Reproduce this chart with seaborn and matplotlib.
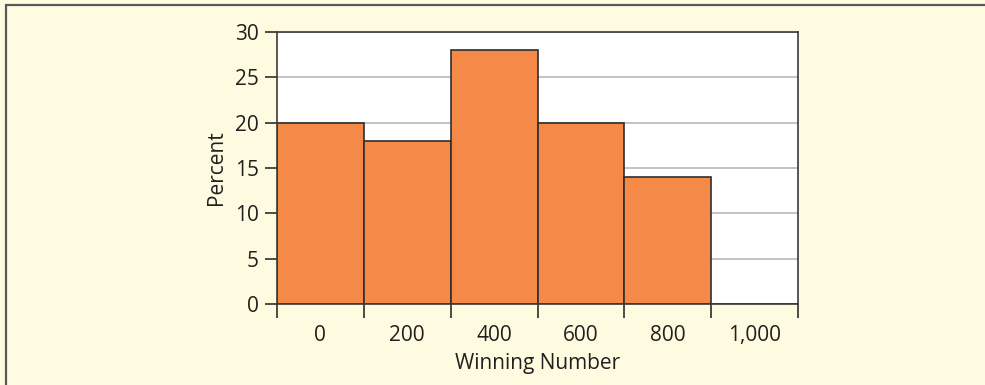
import matplotlib
matplotlib.use('Agg')
import matplotlib.pyplot as plt
import matplotlib.ticker as mticker
import seaborn as sns
import pandas as pd

# data
centers = [0, 200, 400, 600, 800, 1000]
percents = [20, 18, 28, 20, 14, 0]
center_labels = ['0', '200', '400', '600', '800', '1,000']
edges = [-100, 100, 300, 500, 700, 900, 1100]

sns.set_style('white')
plt.rcParams['font.family'] = ['Open Sans', 'DejaVu Sans']

bg = '#fefbe0'
df = pd.DataFrame({'Winning Number': centers, 'Percent': percents})

fig = plt.figure(figsize=(9.85, 3.85), dpi=100, facecolor=bg)
ax = fig.add_axes([277 / 985, 1 - 304 / 385, 521 / 985, 272 / 385])
ax.set_facecolor('white')

sns.histplot(data=df, x='Winning Number', weights='Percent', bins=edges,
             color='#f58a48', alpha=1, edgecolor='#2e2e2e', linewidth=1.2, ax=ax, zorder=2)

ax.set_xlim(-100, 1100)
ax.set_ylim(0, 30)
ax.set_yticks([0, 5, 10, 15, 20, 25, 30])
ax.yaxis.grid(True, color='#bdbdbd', linewidth=1.3, zorder=0)
ax.set_axisbelow(True)

# ticks at bin edges, labels at bin centers
ax.xaxis.set_major_locator(mticker.FixedLocator(edges))
ax.xaxis.set_major_formatter(mticker.NullFormatter())
ax.xaxis.set_minor_locator(mticker.FixedLocator(centers))
ax.xaxis.set_minor_formatter(mticker.FixedFormatter(center_labels))
ax.tick_params(axis='x', which='major', direction='out', length=10, width=1.2, color='#2e2e2e', bottom=True)
ax.tick_params(axis='x', which='minor', length=0, pad=15, labelsize=15, labelcolor='#231f20', bottom=True)
ax.tick_params(axis='y', direction='out', length=9, width=1.2, color='#2e2e2e', left=True,
               pad=4, labelsize=15, labelcolor='#231f20')

for s in ax.spines.values():
    s.set_color('#3a3a3a')
    s.set_linewidth(1.2)

ax.set_xlabel('Winning Number', fontsize=15, color='#231f20', labelpad=5)
ax.set_ylabel('Percent', fontsize=15, color='#231f20', labelpad=6)

# frame lines at top and left of the figure
fig.add_artist(plt.Line2D([6 / 985, 6 / 985], [0, 1 - 5 / 385], transform=fig.transFigure, color='#5a5a5a', linewidth=1.6))
fig.add_artist(plt.Line2D([6 / 985, 1], [1 - 5 / 385, 1 - 5 / 385], transform=fig.transFigure, color='#5a5a5a', linewidth=1.6))

fig.savefig('out.png', dpi=100, facecolor=bg)
